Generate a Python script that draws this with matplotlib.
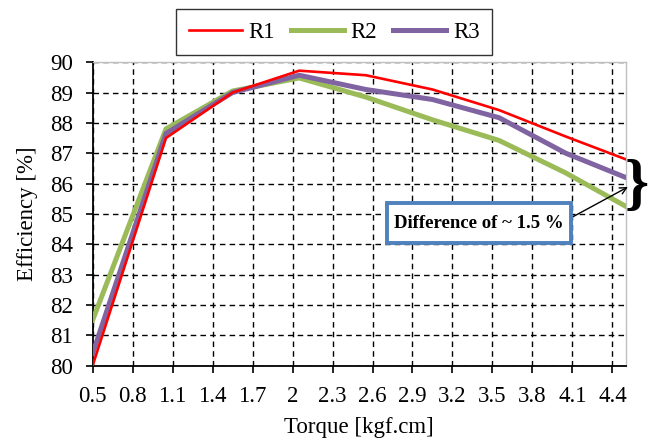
import matplotlib
matplotlib.use("Agg")
import matplotlib.pyplot as plt
from matplotlib.patches import Rectangle

plt.rcParams['font.family'] = ['Liberation Serif', 'DejaVu Serif']

torque = [0.5, 1.05, 1.55, 2.05, 2.55, 3.05, 3.55, 4.05, 4.5]
r1 = [80.0, 87.5, 89.0, 89.72, 89.57, 89.1, 88.42, 87.55, 86.8]
r2 = [81.5, 87.8, 89.05, 89.48, 88.85, 88.1, 87.42, 86.35, 85.25]
r3 = [80.4, 87.65, 89.0, 89.57, 89.1, 88.77, 88.17, 87.0, 86.2]
xticks = [0.5, 0.8, 1.1, 1.4, 1.7, 2.0, 2.3, 2.6, 2.9, 3.2, 3.5, 3.8, 4.1, 4.4]
xticklabels = ['0.5', '0.8', '1.1', '1.4', '1.7', '2', '2.3', '2.6', '2.9', '3.2', '3.5', '3.8', '4.1', '4.4']
yticks = [80, 81, 82, 83, 84, 85, 86, 87, 88, 89, 90]

fig = plt.figure(figsize=(6.48, 4.41), dpi=100)
ax = fig.add_axes([0.143, 0.171, 0.8226, 0.688])

ax.plot(torque, r2, color='#9BBB59', lw=3.6, label='R2', zorder=3)
ax.plot(torque, r3, color='#8064A2', lw=3.6, label='R3', zorder=4)
ax.plot(torque, r1, color='#FF0000', lw=1.9, label='R1', zorder=5)

ax.set_xlim(0.5, 4.5)
ax.set_ylim(80, 90)
ax.set_xticks(xticks)
ax.set_xticklabels(xticklabels)
ax.set_yticks(yticks)
ax.tick_params(labelsize=16.5, direction='out', length=5, width=1.2, color='black')
ax.tick_params(axis='x', pad=10)
ax.tick_params(axis='y', pad=9)
ax.grid(True, color='black', linestyle=(0, (4, 3)), lw=1.0)
ax.set_axisbelow(True)
for s in ['top', 'right']:
    ax.spines[s].set_color('#BFBFBF')
    ax.spines[s].set_linewidth(1.0)
for s in ['left', 'bottom']:
    ax.spines[s].set_color('black')
    ax.spines[s].set_linewidth(1.3)

ax.set_xlabel('Torque [kgf.cm]', fontsize=16.5, labelpad=7)
ax.set_ylabel('Efficiency [%]', fontsize=16.5, labelpad=9)

handles, labels = ax.get_legend_handles_labels()
order = [2, 0, 1]
leg = fig.legend([handles[i] for i in order], [labels[i] for i in order],
                 loc='center', bbox_to_anchor=(0.516, 0.927), ncol=3, fontsize=16.5,
                 frameon=True, fancybox=False, edgecolor='black', handlelength=2.3,
                 columnspacing=0.7, handletextpad=0.3, borderpad=0.55)
leg.get_frame().set_linewidth(1.0)

# annotation box
fig.patches.append(Rectangle((0.597, 0.449), 0.284, 0.0907, transform=fig.transFigure,
                             fc='white', ec='#4F81BD', lw=2.8, zorder=10))
fig.text(0.739, 0.494, 'Difference of ~ 1.5 %', fontsize=13.5, fontweight='bold',
         ha='center', va='center', zorder=11)
fig.add_artist(plt.Annotation('', xy=(0.969, 0.576), xycoords='figure fraction',
                              xytext=(0.881, 0.506), textcoords='figure fraction',
                              arrowprops=dict(arrowstyle='->', color='black', lw=1.0,
                                              shrinkA=0, shrinkB=0, mutation_scale=12)))

fig.text(0.983, 0.577, '}', fontsize=44, fontweight='bold', ha='center', va='center')

fig.savefig('out.png', dpi=100)
